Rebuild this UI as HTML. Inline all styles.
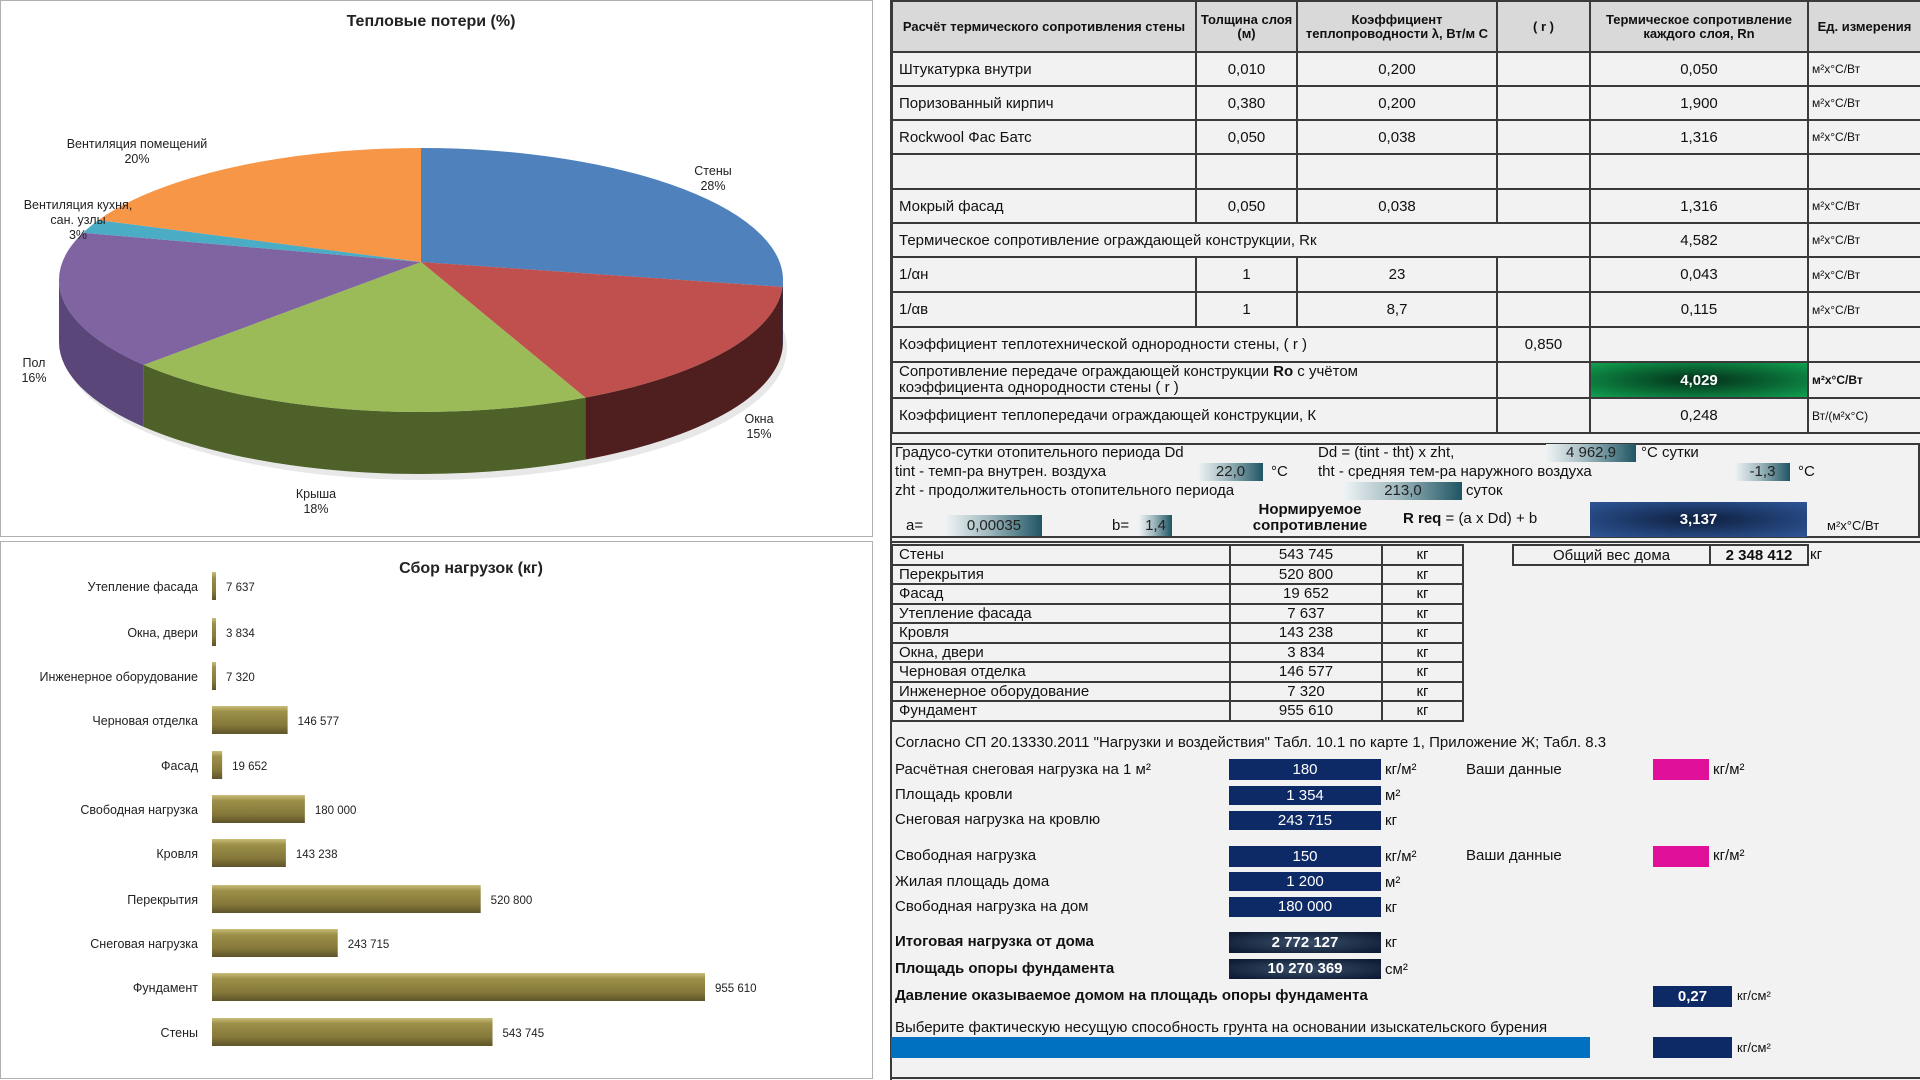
<!DOCTYPE html>
<html><head><meta charset="utf-8">
<style>
*{margin:0;padding:0;box-sizing:border-box}
body{width:1920px;height:1080px;position:relative;background:#fff;font-family:"Liberation Sans","DejaVu Sans",sans-serif;color:#111;overflow:hidden}
.panel{position:absolute;border:1px solid #b0b0b0;background:#fff}
.a{position:absolute;white-space:nowrap}
table.t{position:absolute;border-collapse:collapse;font-size:15px;background:#f2f2f2;table-layout:fixed}
table.t td{border:2px solid #3a3a3a;padding:0 6px;overflow:hidden;white-space:nowrap}
.c{text-align:center}
.hd td{background:#d9d9d9;font-weight:bold;font-size:13px;text-align:center;line-height:14px;white-space:normal !important;padding:0 3px !important}
.u{font-size:12px;padding:0 3px !important}
.bx{position:absolute;text-align:center;font-size:15px}
.teal{background:linear-gradient(90deg,#eef3f4 0%,#9fb8be 45%,#1f5563 100%);color:#222}
.navy{background:#0d2a66;color:#fff}
.dark{background:radial-gradient(ellipse at center,#3a4f6a 0%,#0d1b33 90%);color:#fff;font-weight:bold}
</style></head><body>

<div class="panel" style="left:0;top:0;width:873px;height:537px"></div>
<div class="panel" style="left:0;top:541px;width:873px;height:538px"></div>
<div style="position:absolute;left:890px;top:0;width:1030px;height:1080px;background:#f2f2f2;border-left:2px solid #3a3a3a"></div>
<div style="position:absolute;left:890px;top:443px;width:1030px;height:95px;border:2px solid #3a3a3a"></div>
<div style="position:absolute;left:890px;top:541px;width:1030px;height:538px;border:2px solid #3a3a3a;border-right:none"></div>

<svg id="svg" style="position:absolute;left:0;top:0" width="880" height="1080" font-family="Liberation Sans, DejaVu Sans, sans-serif">
<defs>
<linearGradient id="bar" x1="0" y1="0" x2="0" y2="1">
<stop offset="0" stop-color="#c9bd7a"/><stop offset="0.2" stop-color="#9d9049"/><stop offset="0.7" stop-color="#84773a"/><stop offset="1" stop-color="#5e5428"/>
</linearGradient>
</defs>
<text x="431" y="26" text-anchor="middle" font-size="16" font-weight="bold" fill="#222">Тепловые потери (%)</text>
<text x="471" y="573" text-anchor="middle" font-size="16" font-weight="bold" fill="#222">Сбор нагрузок (кг)</text>
<g id="pie"></g>
<g font-size="12.5" fill="#222" text-anchor="middle">
<text x="713" y="175">Стены</text><text x="713" y="190">28%</text>
<text x="759" y="423">Окна</text><text x="759" y="438">15%</text>
<text x="316" y="498">Крыша</text><text x="316" y="513">18%</text>
<text x="34" y="367">Пол</text><text x="34" y="382">16%</text>
<text x="78" y="209">Вентиляция кухня,</text><text x="78" y="224">сан. узлы</text><text x="78" y="239">3%</text>
<text x="137" y="148">Вентиляция помещений</text><text x="137" y="163">20%</text>
</g>
<g id="bars" font-size="12.5" fill="#222"></g>
</svg>

<table class="t" style="left:891px;top:0;width:1029px">
<colgroup><col style="width:304px"><col style="width:101px"><col style="width:200px"><col style="width:93px"><col style="width:218px"><col style="width:113px"></colgroup>
<tr class="hd" style="height:51px"><td>Расчёт термического сопротивления стены</td><td>Толщина слоя (м)</td><td>Коэффициент теплопроводности λ, Вт/м С</td><td>( r )</td><td>Термическое сопротивление каждого слоя, Rn</td><td>Ед. измерения</td></tr>
<tr style="height:34px"><td>Штукатурка внутри</td><td class="c">0,010</td><td class="c">0,200</td><td></td><td class="c">0,050</td><td class="u">м²х°С/Вт</td></tr>
<tr style="height:34px"><td>Поризованный кирпич</td><td class="c">0,380</td><td class="c">0,200</td><td></td><td class="c">1,900</td><td class="u">м²х°С/Вт</td></tr>
<tr style="height:34px"><td>Rockwool Фас Батс</td><td class="c">0,050</td><td class="c">0,038</td><td></td><td class="c">1,316</td><td class="u">м²х°С/Вт</td></tr>
<tr style="height:35px"><td></td><td></td><td></td><td></td><td></td><td></td></tr>
<tr style="height:34px"><td>Мокрый фасад</td><td class="c">0,050</td><td class="c">0,038</td><td></td><td class="c">1,316</td><td class="u">м²х°С/Вт</td></tr>
<tr style="height:34px"><td colspan="4">Термическое сопротивление ограждающей конструкции, Rк</td><td class="c">4,582</td><td class="u">м²х°С/Вт</td></tr>
<tr style="height:35px"><td>1/αн</td><td class="c">1</td><td class="c">23</td><td></td><td class="c">0,043</td><td class="u">м²х°С/Вт</td></tr>
<tr style="height:35px"><td>1/αв</td><td class="c">1</td><td class="c">8,7</td><td></td><td class="c">0,115</td><td class="u">м²х°С/Вт</td></tr>
<tr style="height:35px"><td colspan="3">Коэффициент теплотехнической однородности стены, ( r )</td><td class="c">0,850</td><td></td><td></td></tr>
<tr style="height:36px"><td colspan="3" style="line-height:16px">Сопротивление передаче ограждающей конструкции <b>Ro</b> с учётом<br>коэффициента однородности стены ( r )</td><td></td><td class="c" style="background:radial-gradient(ellipse at center,#04301a 0%,#0a6b36 55%,#10a050 100%);color:#fff;font-weight:bold">4,029</td><td class="u" style="font-weight:bold">м²х°С/Вт</td></tr>
<tr style="height:35px"><td colspan="3">Коэффициент теплопередачи ограждающей конструкции, К</td><td></td><td class="c">0,248</td><td class="u">Вт/(м²х°С)</td></tr>
</table>

<div style="font-size:15px">
<div class="a" style="left:895px;top:444px">Градусо-сутки отопительного периода Dd</div>
<div class="a" style="left:1318px;top:444px">Dd = (tint - tht) x zht,</div>
<div class="bx teal" style="left:1546px;top:444px;width:90px;height:18px">4 962,9</div>
<div class="a" style="left:1641px;top:444px">°С сутки</div>
<div class="a" style="left:895px;top:463px">tint - темп-ра внутрен. воздуха</div>
<div class="bx teal" style="left:1198px;top:463px;width:65px;height:18px">22,0</div>
<div class="a" style="left:1271px;top:463px">°С</div>
<div class="a" style="left:1318px;top:463px">tht - средняя тем-ра наружного воздуха</div>
<div class="bx teal" style="left:1735px;top:463px;width:55px;height:18px">-1,3</div>
<div class="a" style="left:1798px;top:463px">°С</div>
<div class="a" style="left:895px;top:482px">zht - продолжительность отопительного периода</div>
<div class="bx teal" style="left:1344px;top:482px;width:118px;height:18px">213,0</div>
<div class="a" style="left:1466px;top:482px">суток</div>
<div class="a" style="left:906px;top:517px">a=</div>
<div class="bx teal" style="left:946px;top:515px;width:96px;height:21px;line-height:21px">0,00035</div>
<div class="a" style="left:1112px;top:517px">b=</div>
<div class="bx teal" style="left:1139px;top:515px;width:33px;height:21px;line-height:21px">1,4</div>
<div class="a" style="left:1240px;top:502px;width:140px;text-align:center;font-weight:bold;line-height:16px">Нормируемое<br>сопротивление</div>
<div class="a" style="left:1403px;top:510px"><b>R req</b> = (a x Dd) + b</div>
<div class="bx" style="left:1590px;top:502px;width:217px;height:35px;line-height:35px;background:radial-gradient(ellipse at center,#0e1f3e 0%,#25477f 70%,#2e5597 100%);color:#fff;font-weight:bold">3,137</div>
<div class="a" style="left:1827px;top:518px;font-size:13px">м²х°С/Вт</div>
</div>

<table class="t" style="left:891px;top:544px;width:571px;font-size:15px">
<colgroup><col style="width:338px"><col style="width:152px"><col style="width:81px"></colgroup>
<tr style="height:19.5px"><td>Стены</td><td class="c">543 745</td><td class="c">кг</td></tr>
<tr style="height:19.5px"><td>Перекрытия</td><td class="c">520 800</td><td class="c">кг</td></tr>
<tr style="height:19.5px"><td>Фасад</td><td class="c">19 652</td><td class="c">кг</td></tr>
<tr style="height:19.5px"><td>Утепление фасада</td><td class="c">7 637</td><td class="c">кг</td></tr>
<tr style="height:19.5px"><td>Кровля</td><td class="c">143 238</td><td class="c">кг</td></tr>
<tr style="height:19.5px"><td>Окна, двери</td><td class="c">3 834</td><td class="c">кг</td></tr>
<tr style="height:19.5px"><td>Черновая отделка</td><td class="c">146 577</td><td class="c">кг</td></tr>
<tr style="height:19.5px"><td>Инженерное оборудование</td><td class="c">7 320</td><td class="c">кг</td></tr>
<tr style="height:19.5px"><td>Фундамент</td><td class="c">955 610</td><td class="c">кг</td></tr>
</table>
<table class="t" style="left:1512px;top:544px;width:295px;font-size:15px">
<colgroup><col style="width:197px"><col style="width:98px"></colgroup>
<tr style="height:20px"><td class="c">Общий вес дома</td><td class="c" style="font-weight:bold;padding:0 2px">2 348 412</td></tr>
</table>
<div class="a" style="left:1810px;top:546px;font-size:15px">кг</div>

<div style="font-size:15px">
<div class="a" style="left:895px;top:734px">Согласно СП 20.13330.2011 "Нагрузки и воздействия"  Табл. 10.1 по карте 1, Приложение Ж; Табл. 8.3</div>
<div class="a" style="left:895px;top:761px">Расчётная снеговая нагрузка на 1 м²</div>
<div class="bx navy" style="left:1229px;top:759px;width:152px;height:21px;line-height:21px">180</div>
<div class="a" style="left:1385px;top:761px">кг/м²</div>
<div class="a" style="left:1466px;top:761px">Ваши данные</div>
<div class="bx" style="left:1653px;top:759px;width:56px;height:21px;background:#e0109a"></div>
<div class="a" style="left:1713px;top:761px">кг/м²</div>
<div class="a" style="left:895px;top:786px">Площадь кровли</div>
<div class="bx navy" style="left:1229px;top:786px;width:152px;height:19px;line-height:19px">1 354</div>
<div class="a" style="left:1385px;top:787px">м²</div>
<div class="a" style="left:895px;top:811px">Снеговая нагрузка на кровлю</div>
<div class="bx navy" style="left:1229px;top:811px;width:152px;height:19px;line-height:19px">243 715</div>
<div class="a" style="left:1385px;top:812px">кг</div>
<div class="a" style="left:895px;top:847px">Свободная нагрузка</div>
<div class="bx navy" style="left:1229px;top:846px;width:152px;height:21px;line-height:21px">150</div>
<div class="a" style="left:1385px;top:848px">кг/м²</div>
<div class="a" style="left:1466px;top:847px">Ваши данные</div>
<div class="bx" style="left:1653px;top:846px;width:56px;height:21px;background:#e0109a"></div>
<div class="a" style="left:1713px;top:847px">кг/м²</div>
<div class="a" style="left:895px;top:873px">Жилая площадь дома</div>
<div class="bx navy" style="left:1229px;top:872px;width:152px;height:19px;line-height:19px">1 200</div>
<div class="a" style="left:1385px;top:874px">м²</div>
<div class="a" style="left:895px;top:898px">Свободная нагрузка на дом</div>
<div class="bx navy" style="left:1229px;top:897px;width:152px;height:20px;line-height:20px">180 000</div>
<div class="a" style="left:1385px;top:899px">кг</div>
<div class="a" style="left:895px;top:933px;font-weight:bold">Итоговая нагрузка от дома</div>
<div class="bx dark" style="left:1229px;top:932px;width:152px;height:21px;line-height:21px">2 772 127</div>
<div class="a" style="left:1385px;top:934px">кг</div>
<div class="a" style="left:895px;top:960px;font-weight:bold">Площадь опоры фундамента</div>
<div class="bx dark" style="left:1229px;top:959px;width:152px;height:20px;line-height:20px">10 270 369</div>
<div class="a" style="left:1385px;top:961px">см²</div>
<div class="a" style="left:895px;top:987px;font-weight:bold">Давление оказываемое домом на площадь опоры фундамента</div>
<div class="bx navy" style="left:1653px;top:986px;width:79px;height:21px;line-height:21px;font-weight:bold">0,27</div>
<div class="a" style="left:1737px;top:988px;font-size:13px">кг/см²</div>
<div class="a" style="left:895px;top:1019px">Выберите фактическую несущую способность грунта на основании изыскательского бурения</div>
<div style="position:absolute;left:891px;top:1037px;width:699px;height:21px;background:#0070c0"></div>
<div class="bx navy" style="left:1653px;top:1037px;width:79px;height:21px"></div>
<div class="a" style="left:1737px;top:1040px;font-size:13px">кг/см²</div>
</div>

<script>
var NS="http://www.w3.org/2000/svg";
function el(t,a,p){var e=document.createElementNS(NS,t);for(var k in a)e.setAttribute(k,a[k]);p.appendChild(e);return e;}
var vx=421,vy=262,cx=421,cy=280,rx=362,ry=132,d=62,pie=document.getElementById('pie');
var R=Math.PI/180;
var angs=[0,93,153,230,291,297,360];
var cols=[['#4f81bd','#2c4a70'],['#c0504d','#4e1f1e'],['#9bbb59','#4d6128'],['#8064a2','#5a4678'],['#4bacc6','#2f7a8c'],['#f79646','#b0602a']];
function P(t,dy){return [cx+rx*Math.sin(t),cy-ry*Math.cos(t)+(dy||0)];}
var sl=[];
for(var i=0;i<6;i++)sl.push([angs[i]*R,angs[i+1]*R,cols[i][0],cols[i][1]]);
el('ellipse',{cx:cx+4,cy:cy+d+6,rx:rx,ry:ry,fill:'#e8e8e8'},pie);
sl.forEach(function(s){
 var a0=Math.max(s[0],Math.PI/2),a1=Math.min(s[1],3*Math.PI/2);
 if(a1<=a0)return;
 var p0=P(a0),p1=P(a1),q0=P(a0,d),q1=P(a1,d);
 el('path',{d:'M'+p0+' A'+rx+' '+ry+' 0 0 1 '+p1+' L'+q1+' A'+rx+' '+ry+' 0 0 0 '+q0+' Z',fill:s[3]},pie);
});
sl.forEach(function(s){
 var p0=P(s[0]),p1=P(s[1]),lg=(s[1]-s[0])>Math.PI?1:0;
 el('path',{d:'M'+vx+','+vy+' L'+p0+' A'+rx+' '+ry+' 0 '+lg+' 1 '+p1+' Z',fill:s[2]},pie);
});
var bars=[['Утепление фасада',7637,'7 637'],['Окна, двери',3834,'3 834'],['Инженерное оборудование',7320,'7 320'],['Черновая отделка',146577,'146 577'],['Фасад',19652,'19 652'],['Свободная нагрузка',180000,'180 000'],['Кровля',143238,'143 238'],['Перекрытия',520800,'520 800'],['Снеговая нагрузка',243715,'243 715'],['Фундамент',955610,'955 610'],['Стены',543745,'543 745']];
var ys=[586,632,676,720,765,809,853,899,943,987,1032],g=document.getElementById('bars');
bars.forEach(function(b,i){
 var y=ys[i],w=Math.max(4,b[1]*493/955610);
 el('rect',{x:212,y:y-14,width:w,height:28,fill:'url(#bar)'},g);
 var t=el('text',{x:198,y:y+5,'text-anchor':'end'},g);t.textContent=b[0];
 var t2=el('text',{x:212+w+10,y:y+5,'font-size':'11.5'},g);t2.textContent=b[2];
});
</script>
</body></html>
